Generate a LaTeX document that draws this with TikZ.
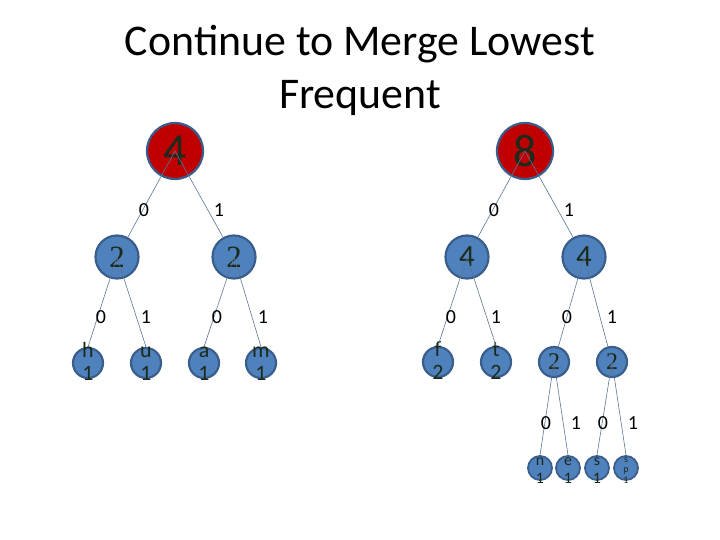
\documentclass[tikz,border=0pt]{standalone}
\usepackage{fontspec}
\setmainfont{Carlito}
\newfontfamily\numserif{Liberation Serif}
\usepackage{tikz}
\definecolor{nodered}{HTML}{C00000}
\definecolor{nodeblue}{HTML}{4F81BD}
\definecolor{rimblue}{HTML}{3A5E8C}
\definecolor{edgeblue}{HTML}{5A7594}
\definecolor{digit}{HTML}{1B2A1B}
\newcommand{\leafstack}[2]{\smash{\raisebox{-7pt}{\begin{tabular}{@{}c@{}}#1\\[3pt]#2\end{tabular}}}}
\newcommand{\tinystack}[2]{\smash{\raisebox{-8pt}{\begin{tabular}{@{}c@{}}#1\\[3pt]#2\end{tabular}}}}
\tikzset{
    hnode/.style={circle, draw=rimblue, line width=2.2pt, text=digit, inner sep=0pt},
    rootnode/.style={hnode, fill=nodered, minimum size=56bp, font=\fontsize{46}{46}\selectfont},
    midnode/.style={hnode, fill=nodeblue, minimum size=43bp, font=\fontsize{31}{31}\selectfont},
    leafnode/.style={hnode, fill=nodeblue, minimum size=30bp, font=\fontsize{22}{20}\selectfont},
    tinynode/.style={hnode, fill=nodeblue, minimum size=24bp, line width=1.8pt, font=\fontsize{16}{15}\selectfont},
    bitlabel/.style={font=\fontsize{20}{20}\selectfont, text=black},
    branch/.style={draw=edgeblue, line width=0.6pt}
}

\begin{document}
\begin{tikzpicture}[x=1bp, y=-1bp]
    \useasboundingbox (0, 0) rectangle (720, 540);
    \node[align=center, font=\fontsize{44}{53}\selectfont] (title) at (360, 70) {Continue to Merge Lowest\\Frequent};

    \node[rootnode] (r4) at (175, 151) {4};
    \node[rootnode] (r8) at (525, 151) {8};
    \node[midnode] (a2) at (117, 257) {\numserif 2};
    \node[midnode] (b2) at (234, 257) {\numserif 2};
    \node[midnode] (c4) at (467, 257) {4};
    \node[midnode] (d4) at (584, 257) {4};
    \node[leafnode] (h) at (88, 363) {\leafstack{h}{1}};
    \node[leafnode] (u) at (146, 363) {\leafstack{u}{1}};
    \node[leafnode] (a) at (204, 363) {\leafstack{a}{1}};
    \node[leafnode] (m) at (261, 363) {\leafstack{m}{1}};
    \node[leafnode] (f) at (438, 362) {\leafstack{f}{2}};
    \node[leafnode] (t) at (496, 362) {\leafstack{t}{2}};
    \node[leafnode, font=\fontsize{24}{24}\selectfont] (e2) at (554, 362) {\numserif 2};
    \node[leafnode, font=\fontsize{24}{24}\selectfont] (f2) at (612, 362) {\numserif 2};
    \node[tinynode] (n) at (540, 468) {\tinystack{n}{1}};
    \node[tinynode] (e) at (568, 468) {\tinystack{e}{1}};
    \node[tinynode] (s) at (597, 468) {\tinystack{s}{1}};
    \node[tinynode, font=\fontsize{10}{8}\selectfont] (sp) at (626, 468) {\smash{\raisebox{-6pt}{\begin{tabular}{@{}c@{}}s\\[2pt]p\\[2pt]1\end{tabular}}}};

    \draw[branch] (r4.center) -- (a2);
    \draw[branch] (r4.center) -- (b2);
    \draw[branch] (r8.center) -- (c4);
    \draw[branch] (r8.center) -- (d4);
    \draw[branch] (a2.center) -- (h.north);
    \draw[branch] (a2.center) -- (u.north);
    \draw[branch] (b2.center) -- (a.north);
    \draw[branch] (b2.center) -- (m.north);
    \draw[branch] (c4.center) -- (f.north);
    \draw[branch] (c4.center) -- (t.north);
    \draw[branch] (d4.center) -- (e2);
    \draw[branch] (d4.center) -- (f2);
    \draw[branch] (e2.center) -- (n.north);
    \draw[branch] (e2.center) -- (e.north);
    \draw[branch] (f2.center) -- (s.north);
    \draw[branch] (f2.center) -- (sp.north);

    \node[bitlabel] (r4z) at (144, 210) {0};
    \node[bitlabel] (r4o) at (219, 210) {1};
    \node[bitlabel] (r8z) at (494, 210) {0};
    \node[bitlabel] (r8o) at (569, 210) {1};
    \node[bitlabel] (a2z) at (101, 317) {0};
    \node[bitlabel] (a2o) at (146, 317) {1};
    \node[bitlabel] (b2z) at (217, 317) {0};
    \node[bitlabel] (b2o) at (263, 317) {1};
    \node[bitlabel] (c4z) at (451, 317) {0};
    \node[bitlabel] (c4o) at (496, 317) {1};
    \node[bitlabel] (d4z) at (567, 317) {0};
    \node[bitlabel] (d4o) at (612, 317) {1};
    \node[bitlabel] (e2z) at (546, 423) {0};
    \node[bitlabel] (e2o) at (576, 423) {1};
    \node[bitlabel] (f2z) at (603, 423) {0};
    \node[bitlabel] (f2o) at (633, 423) {1};
\end{tikzpicture}
\end{document}
